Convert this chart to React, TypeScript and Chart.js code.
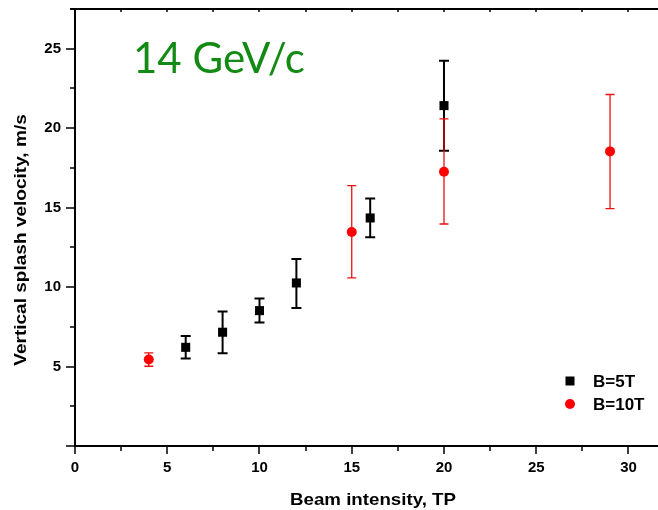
import React, { useEffect, useRef } from 'react';
import { Chart, registerables } from 'chart.js';

Chart.register(...registerables);

// B=5T (black squares)
const b5X = [6, 8, 10, 12, 16, 20];
const b5Y = [6.21, 7.16, 8.52, 10.26, 14.35, 21.42];
const b5Lo = [5.5, 5.84, 7.77, 8.69, 13.13, 18.58];
const b5Hi = [6.93, 8.46, 9.28, 11.77, 15.58, 24.25];

// B=10T (red circles)
const b10X = [4, 15, 20, 29];
const b10Y = [5.44, 13.47, 17.26, 18.54];
const b10Lo = [5.02, 10.58, 13.97, 14.94];
const b10Hi = [5.86, 16.38, 20.58, 22.12];

const xTickLabels = [0, 5, 10, 15, 20, 25, 30];
const yTickLabels = [5, 10, 15, 20, 25];
const minorStep = 2.5;

const seriesNames = ['B=5T', 'B=10T'];
const titleText = '14 GeV/c';
const xTitle = 'Beam intensity, TP';
const yTitle = 'Vertical splash velocity, m/s';

const FONT = 'Arial, "Liberation Sans", sans-serif';

const errorBarPlugin = {
  id: 'errorBars',
  beforeDatasetsDraw(chart: any) {
    const { ctx } = chart;
    const xs = chart.scales.x;
    const ys = chart.scales.y;
    chart.data.datasets.forEach((ds: any) => {
      const lo: number[] = ds.errLo;
      const hi: number[] = ds.errHi;
      ctx.save();
      ctx.strokeStyle = ds.errColor;
      ctx.lineWidth = ds.errWidth;
      ds.data.forEach((p: any, i: number) => {
        const px = xs.getPixelForValue(p.x);
        const pl = ys.getPixelForValue(lo[i]);
        const ph = ys.getPixelForValue(hi[i]);
        const c = ds.capHalf;
        ctx.beginPath();
        ctx.moveTo(px, pl);
        ctx.lineTo(px, ph);
        ctx.moveTo(px - c, pl);
        ctx.lineTo(px + c, pl);
        ctx.moveTo(px - c, ph);
        ctx.lineTo(px + c, ph);
        ctx.stroke();
      });
      ctx.restore();
    });
  },
};

const framePlugin = {
  id: 'frame',
  afterDraw(chart: any) {
    const { ctx, chartArea } = chart;
    const xs = chart.scales.x;
    const ys = chart.scales.y;
    const { left, right, top, bottom } = chartArea;
    ctx.save();
    ctx.strokeStyle = '#000';
    ctx.lineWidth = 2;
    ctx.beginPath();
    // left axis
    ctx.moveTo(left, top - 1);
    ctx.lineTo(left, bottom + 1);
    // bottom axis
    ctx.moveTo(left - 1, bottom);
    ctx.lineTo(right, bottom);
    // top axis
    ctx.moveTo(left - 5, top);
    ctx.lineTo(right, top);
    ctx.stroke();

    ctx.lineWidth = 1.5;
    ctx.beginPath();
    for (let v = 0; v <= xs.max + 1e-9; v += minorStep) {
      const px = Math.round(xs.getPixelForValue(v));
      const major = Math.abs(v % 5) < 1e-9;
      ctx.moveTo(px, bottom);
      ctx.lineTo(px, bottom + (major ? 8 : 5));
      ctx.moveTo(px, top);
      ctx.lineTo(px, top + 3);
    }
    for (let v = 0; v <= ys.max + 1e-9; v += minorStep) {
      const py = Math.round(ys.getPixelForValue(v));
      const major = Math.abs(v % 5) < 1e-9;
      ctx.moveTo(left, py);
      ctx.lineTo(left - (major ? 9 : 5), py);
    }
    ctx.stroke();

    // chart title
    ctx.fillStyle = '#138a13';
    ctx.font = '42px Lato, "Open Sans", sans-serif';
    ctx.textAlign = 'left';
    ctx.textBaseline = 'alphabetic';
    ctx.fillText(titleText, 133, 73);

    // axis titles (slightly widened like the original)
    ctx.fillStyle = '#000';
    ctx.font = `bold 17px ${FONT}`;
    ctx.textAlign = 'center';
    ctx.textBaseline = 'middle';
    ctx.save();
    ctx.translate(373, 500);
    ctx.scale(1.1, 1);
    ctx.fillText(xTitle, 0, 0);
    ctx.restore();
    ctx.save();
    ctx.translate(21, 240);
    ctx.rotate(-Math.PI / 2);
    ctx.scale(1.12, 1);
    ctx.fillText(yTitle, 0, 0);
    ctx.restore();

    // legend
    const lx = 570;
    const ly0 = 381;
    const ly1 = 404;
    ctx.fillStyle = '#000';
    ctx.fillRect(lx - 4.5, ly0 - 4.5, 9, 9);
    ctx.fillStyle = '#ff0000';
    ctx.beginPath();
    ctx.arc(lx, ly1, 5, 0, Math.PI * 2);
    ctx.fill();
    ctx.fillStyle = '#000';
    ctx.font = `bold 17px ${FONT}`;
    ctx.textAlign = 'left';
    ctx.textBaseline = 'middle';
    ctx.fillText(seriesNames[0], 593, ly0 + 1);
    ctx.fillText(seriesNames[1], 593, ly1 + 1);
    ctx.restore();
  },
};

const zeroPad = (s: any) => {
  s.paddingTop = 0;
  s.paddingBottom = 0;
  s.paddingLeft = 0;
  s.paddingRight = 0;
};

export default function App() {
  const ref = useRef<HTMLCanvasElement | null>(null);

  useEffect(() => {
    if (!ref.current) return;
    const chart = new Chart(ref.current, {
      type: 'scatter',
      data: {
        datasets: [
          {
            label: seriesNames[0],
            data: b5X.map((x, i) => ({ x, y: b5Y[i] })),
            pointStyle: 'rect',
            pointRadius: 6.4,
            backgroundColor: '#000',
            borderColor: '#000',
            borderWidth: 0,
            errLo: b5Lo,
            errHi: b5Hi,
            errColor: '#000',
            errWidth: 2,
            capHalf: 5,
          } as any,
          {
            label: seriesNames[1],
            data: b10X.map((x, i) => ({ x, y: b10Y[i] })),
            pointStyle: 'circle',
            pointRadius: 5,
            backgroundColor: '#ff0000',
            borderColor: '#ff0000',
            borderWidth: 0,
            errLo: b10Lo,
            errHi: b10Hi,
            errColor: '#f01010',
            errWidth: 1.3,
            capHalf: 4.5,
          } as any,
        ],
      },
      options: {
        animation: false,
        responsive: false,
        devicePixelRatio: 1,
        layout: { autoPadding: false, padding: { top: 9, left: 0, right: 0, bottom: 0 } },
        plugins: { legend: { display: false }, tooltip: { enabled: false } },
        scales: {
          x: {
            type: 'linear',
            min: 0,
            max: 31.6,
            grid: { display: false, drawTicks: false },
            border: { display: false },
            ticks: {
              stepSize: 5,
              includeBounds: false,
              autoSkip: false,
              maxRotation: 0,
              padding: 13,
              color: '#000',
              font: { family: FONT, size: 15, weight: 'bold' },
              callback: (v: any) => (xTickLabels.includes(Number(v)) ? String(v) : ''),
            },
            afterFit: (s: any) => {
              s.height = 64;
              zeroPad(s);
            },
          },
          y: {
            type: 'linear',
            min: 0,
            max: 27.5,
            grid: { display: false, drawTicks: false },
            border: { display: false },
            ticks: {
              stepSize: 5,
              includeBounds: false,
              autoSkip: false,
              padding: 14,
              color: '#000',
              font: { family: FONT, size: 15, weight: 'bold' },
              callback: (v: any) => (yTickLabels.includes(Number(v)) ? String(v) : ''),
            },
            afterFit: (s: any) => {
              s.width = 75;
              zeroPad(s);
            },
          },
        },
      },
      plugins: [errorBarPlugin, framePlugin],
    });
    return () => chart.destroy();
  }, []);

  return (
    <div style={{ position: 'absolute', left: 0, top: 0, width: 658, height: 510, background: '#fff' }}>
      <canvas ref={ref} width={658} height={510} />
    </div>
  );
}
